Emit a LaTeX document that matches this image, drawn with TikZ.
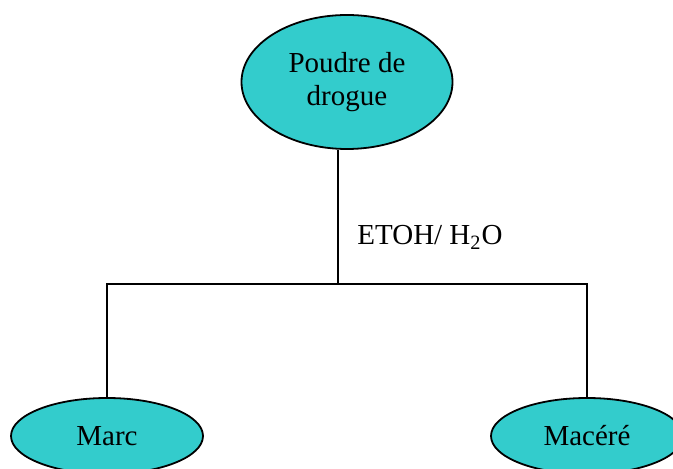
\documentclass[tikz,border=0pt]{standalone}
\usepackage{fontspec}
\setmainfont{Liberation Serif}
\usetikzlibrary{shapes.geometric}
\definecolor{turq}{RGB}{51,204,204}
\begin{document}
\begin{tikzpicture}[x=0.5pt,y=-0.5pt,
  bulle/.style={ellipse,draw,line width=0.9pt,fill=turq,inner sep=0pt,align=center,font=\fontsize{14.5}{16.5}\selectfont},
  trait/.style={line width=0.9pt}]
\useasboundingbox (0,0) rectangle (673,469);
\node[bulle,minimum width=105.5pt,minimum height=67pt] (poudre) at (347,82) {Poudre de\\drogue};
\node[bulle,minimum width=96pt,minimum height=38pt] (marc) at (107,436) {Marc};
\node[bulle,minimum width=96pt,minimum height=38pt] (macere) at (587,436) {Macéré};
\coordinate (noeud) at (338,284);
\draw[trait] (noeud) -- (noeud |- poudre.south);
\draw[trait] (marc.north) |- (noeud) -| (macere.north);
\node[anchor=base west,inner sep=0pt,font=\fontsize{14.5}{16.5}\selectfont] (solvant) at (357,245) {ETOH/ H\textsubscript{2}O};
\end{tikzpicture}
\end{document}
